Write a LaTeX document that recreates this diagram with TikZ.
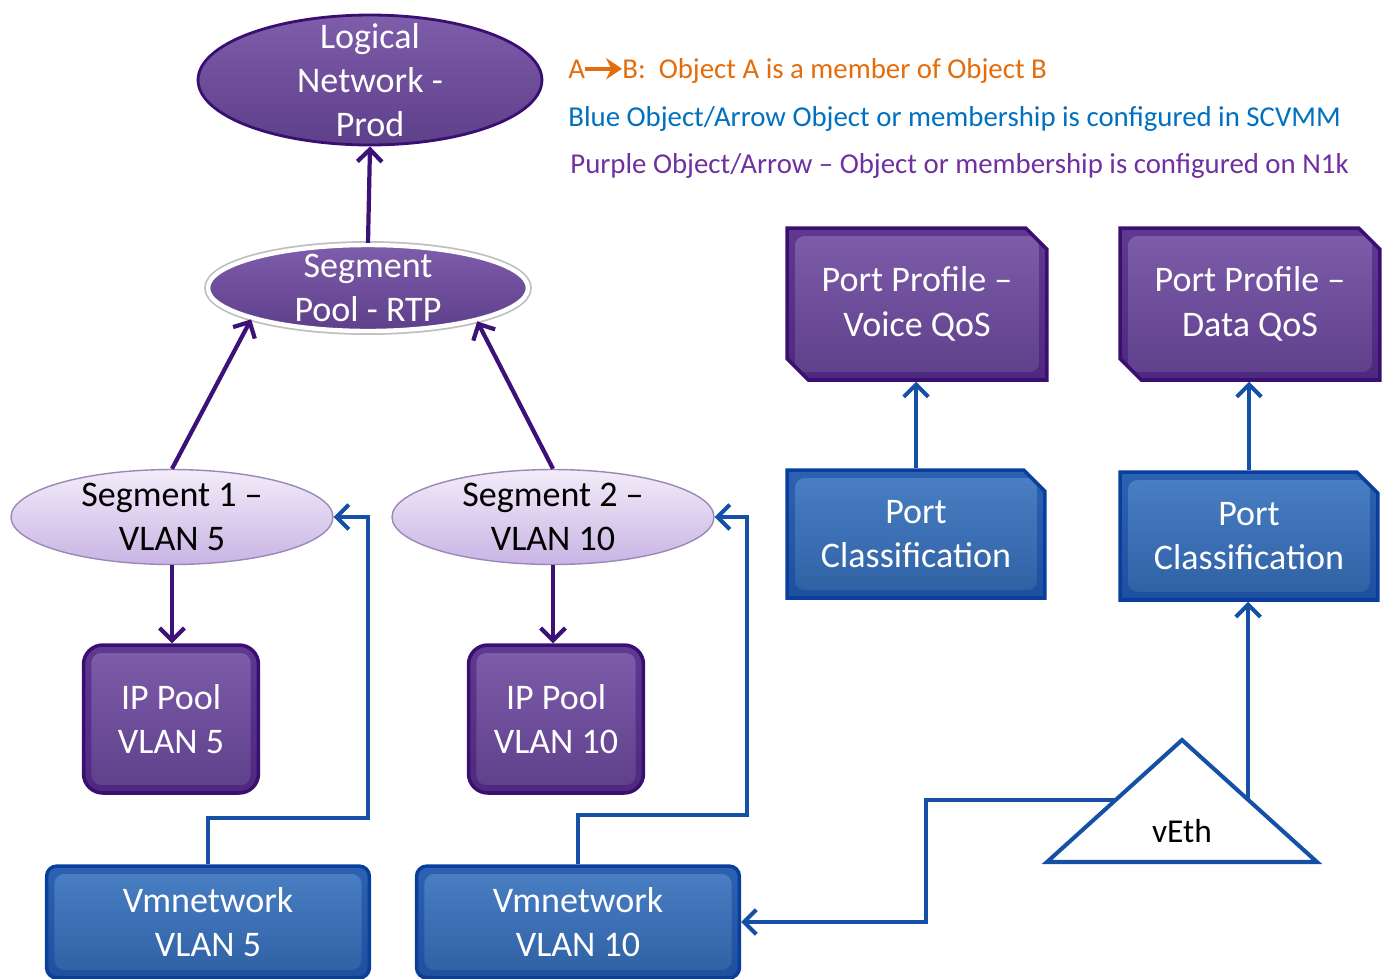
\documentclass[tikz,border=0pt]{standalone}
\usepackage{fontspec}
\setmainfont{Carlito}
\usetikzlibrary{shapes.geometric, shapes.misc, arrows.meta, positioning, calc}
\definecolor{netPurple}{HTML}{7E5DAA}
\definecolor{netPurpleLow}{HTML}{5E3F8A}
\definecolor{netPurpleDark}{HTML}{3B0F72}
\definecolor{segLight}{HTML}{F2ECF9}
\definecolor{segLow}{HTML}{C9B4E4}
\definecolor{segEdge}{HTML}{9A88B6}
\definecolor{cfgBlue}{HTML}{4A80C4}
\definecolor{cfgBlueLow}{HTML}{2E5FA3}
\definecolor{cfgBlueDark}{HTML}{0A3E9C}
\definecolor{linkBlue}{HTML}{1450A6}
\definecolor{linkPurple}{HTML}{3D1278}
\definecolor{keyOrange}{HTML}{E46C0A}
\definecolor{keyBlue}{HTML}{0070C0}
\definecolor{keyPurple}{HTML}{7030A0}
\tikzset{
  boxfont/.style={font=\fontsize{20.5}{25.2}\selectfont, align=center},
  keyfont/.style={font=\fontsize{16.4}{19}\selectfont, inner sep=0pt},
  rim/.style={path picture={\draw[#1, line width=9pt, opacity=0.45, rounded corners=10pt]
              (path picture bounding box.south west) rectangle (path picture bounding box.north east);}},
  netoval/.style={ellipse, boxfont, text=white, top color=netPurple, bottom color=netPurpleLow,
                  draw=netPurpleDark, line width=1.6pt, inner xsep=0pt, inner ysep=-10pt},
  segoval/.style={ellipse, boxfont, text=black, top color=segLight, bottom color=segLow,
                  draw=segEdge, line width=0.8pt, inner xsep=0pt, inner ysep=-10pt,
                  minimum width=6.44cm, minimum height=1.9cm},
  poolbox/.style={rectangle, rounded corners=11pt, boxfont, text=white, top color=netPurple,
                  bottom color=netPurpleLow, draw=netPurpleDark, line width=2pt, rim=netPurpleDark,
                  minimum width=3.5cm, minimum height=2.96cm},
  profbox/.style={chamfered rectangle, chamfered rectangle corners={north east, south west},
                  chamfered rectangle xsep=9pt, boxfont, text=white, top color=netPurple,
                  bottom color=netPurpleLow, draw=netPurpleDark, line width=2pt, rim=netPurpleDark,
                  minimum width=5.2cm, minimum height=3.04cm},
  classbox/.style={chamfered rectangle, chamfered rectangle corners=north east,
                  chamfered rectangle xsep=9pt, boxfont, text=white, top color=cfgBlue,
                  bottom color=cfgBlueLow, draw=cfgBlueDark, line width=2pt, rim=cfgBlueDark,
                  minimum width=5.16cm, minimum height=2.56cm},
  vmbox/.style={rectangle, rounded corners=6pt, boxfont, text=white, top color=cfgBlue,
                bottom color=cfgBlueLow, draw=cfgBlueDark, line width=2pt, rim=cfgBlueDark,
                minimum width=6.46cm, minimum height=2.24cm},
  purplink/.style={-{Straight Barb[length=7pt, width=14pt]}, draw=linkPurple, line width=2.4pt},
  bluelink/.style={-{Straight Barb[length=7pt, width=14pt]}, draw=linkBlue, line width=2.3pt},
}

\begin{document}
\begin{tikzpicture}[x=0.02cm, y=-0.02cm]
\useasboundingbox (0,0) rectangle (1390,978);

% legend
\node[keyfont, text=keyOrange, anchor=base west] (keyA) at (568,78) {A};
\node[keyfont, text=keyOrange, anchor=base west] (keyB) at (622,78) {B:\ \ Object A is a member of Object B};
\draw[-{Stealth[length=9pt, width=12pt]}, draw=keyOrange, line width=2.4pt] (keyA.east) ++(0.1,0) coordinate (keyS) (keyS |- keyA.center) -- (keyB.west |- keyA.center);
\node[keyfont, text=keyBlue, anchor=base west] (keyBlue) at (568,126) {Blue Object/Arrow Object or membership is configured in SCVMM};
\node[keyfont, text=keyPurple, anchor=base west] (keyPurple) at (570,173) {Purple Object/Arrow -- Object or membership is configured on N1k};

% N1k side
\node[netoval, minimum width=6.88cm, minimum height=2.6cm] (logicalNet) at (370,80) {Logical\\Network -\\Prod};
\node[netoval, draw=white, line width=2.5pt, preaction={draw=black!25, line width=4.5pt},
      minimum width=6.4cm, minimum height=1.72cm] (segPool) at (368,288) {Segment\\Pool - RTP};
\node[segoval] (seg1) at (172,517) {Segment 1 --\\VLAN 5};
\node[segoval] (seg2) at (553,517) {Segment 2 --\\VLAN 10};
\node[poolbox] (ipPool1) at (171,719) {IP Pool\\VLAN 5};
\node[poolbox] (ipPool2) at (556,719) {IP Pool\\VLAN 10};
\node[profbox] (ppVoice) at (917,304) {Port Profile --\\Voice QoS};
\node[profbox] (ppData) at (1250,304) {Port Profile --\\Data QoS};

% SCVMM side
\node[classbox] (pcVoice) at (916,534) {Port\\Classification};
\node[classbox] (pcData) at (1249,536) {Port\\Classification};
\node[vmbox] (vmNet1) at (208,922) {Vmnetwork\\VLAN 5};
\node[vmbox] (vmNet2) at (578,922) {Vmnetwork\\VLAN 10};

% vEth
\draw[draw=linkBlue, line width=2.3pt, line join=miter, fill=white]
  (1182,740) coordinate (vTop) -- (1317,862) coordinate (vRight) -- (1047,862) coordinate (vLeft) -- cycle;
\node[boxfont, font=\fontsize{19}{22}\selectfont] (vEth) at (1182,831) {vEth};
\coordinate (vEthL) at ($(vTop)!0.49!(vLeft)$);
\coordinate (vEthR) at ($(vTop)!0.49!(vRight)$);

\draw[purplink] (segPool.north) -- (logicalNet.south);
\draw[purplink] (seg1.north) -- (segPool.-165);
\draw[purplink] (seg2.north) -- (segPool.-17);
\draw[purplink] (seg1.south) -- (ipPool1.north -| seg1.south);
\draw[purplink] (seg2.south) -- (ipPool2.north -| seg2.south);

\draw[bluelink] (vmNet1.north) |- (368,818) |- (seg1.east);
\draw[bluelink] (vmNet2.north) |- (747,815) |- (seg2.east);
\draw[bluelink] (pcVoice.north) -- (ppVoice.south -| pcVoice.north);
\draw[bluelink] (pcData.north) -- (ppData.south -| pcData.north);
\draw[bluelink] (vEthR) -- (vEthR |- pcData.south);
\draw[bluelink] (vEthL) -| (926,922) -- (vmNet2.east);
\end{tikzpicture}
\end{document}
